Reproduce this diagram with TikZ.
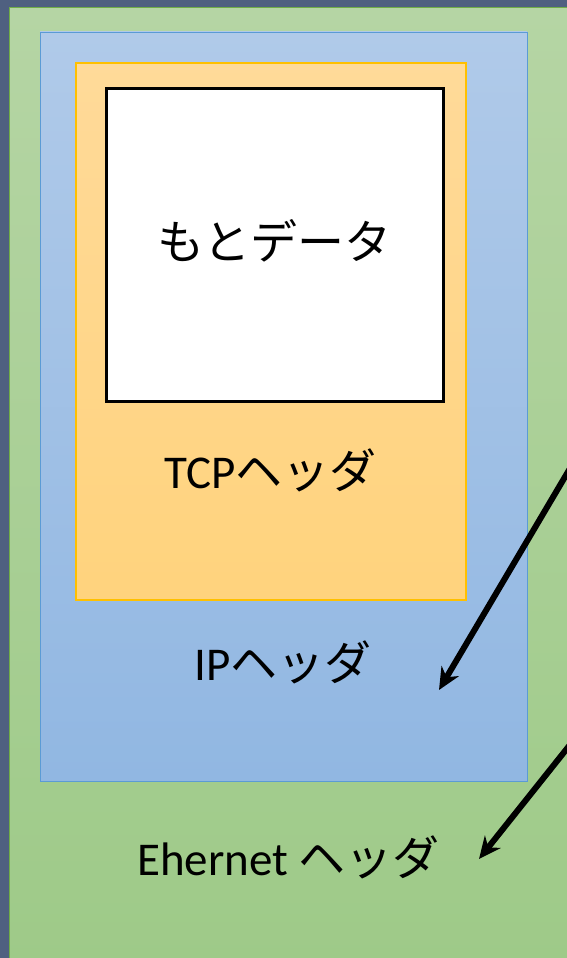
\documentclass[tikz,border=0pt]{standalone}
\usepackage{fontspec}
\setmainfont{Carlito}
\newfontfamily\jpfont{Noto Sans CJK JP}
\usetikzlibrary{arrows.meta}
\definecolor{darkstrip}{RGB}{79,96,128}
\definecolor{greentop}{RGB}{181,213,164}
\definecolor{greenbot}{RGB}{158,202,136}
\definecolor{greenline}{RGB}{112,173,71}
\definecolor{bluetop}{RGB}{176,202,233}
\definecolor{bluebot}{RGB}{145,183,226}
\definecolor{blueline}{RGB}{91,155,213}
\definecolor{orangetop}{RGB}{255,218,153}
\definecolor{orangebot}{RGB}{255,211,125}
\definecolor{orangeline}{RGB}{255,192,0}
\tikzset{
  box/.style={rectangle, inner sep=0pt, outer sep=0pt},
  lbl/.style={inner sep=0pt, font=\fontsize{47}{54}\selectfont, text=black},
  pointer/.style={line width=6pt, -{Stealth[length=22pt,width=20pt]}}
}
\begin{document}
\begin{tikzpicture}[x=1pt,y=-1pt]
\useasboundingbox (0,0) rectangle (567,958);
\fill[darkstrip] (0,0) rectangle (567,958);
\begin{scope}
\clip (0,0) rectangle (567,958);
\shade[top color=greentop, bottom color=greenbot, draw=greenline, line width=0.8pt] (9.5,7.5) rectangle (575,965);
\node[box, minimum width=487pt, minimum height=749pt, top color=bluetop, bottom color=bluebot, draw=blueline, line width=0.8pt] (ip) at (283.5,406.5) {};
\node[box, minimum width=390pt, minimum height=537pt, top color=orangetop, bottom color=orangebot, draw=orangeline, line width=1.2pt] (tcp) at (271,331.5) {};
\node[box, minimum width=337pt, minimum height=313pt, fill=white, draw=black, line width=3pt] (data) at (274.5,244.5) {};
\node[lbl] (tdata) at (274.5,241) {\jpfont もとデータ};
\node[lbl] (ttcp) at (270.5,470) {TCP{\jpfont ヘッダ}};
\node[lbl] (tip) at (283,662) {IP{\jpfont ヘッダ}};
\node[lbl] (teth) at (288.5,857) {Ehernet {\jpfont ヘッダ}};
\coordinate (s1) at (572,465);
\coordinate (e1) at (439,690);
\coordinate (s2) at (573,741);
\coordinate (e2) at (479,859);
\draw[pointer] (s1) -- (e1);
\draw[pointer] (s2) -- (e2);
\end{scope}
\end{tikzpicture}
\end{document}
